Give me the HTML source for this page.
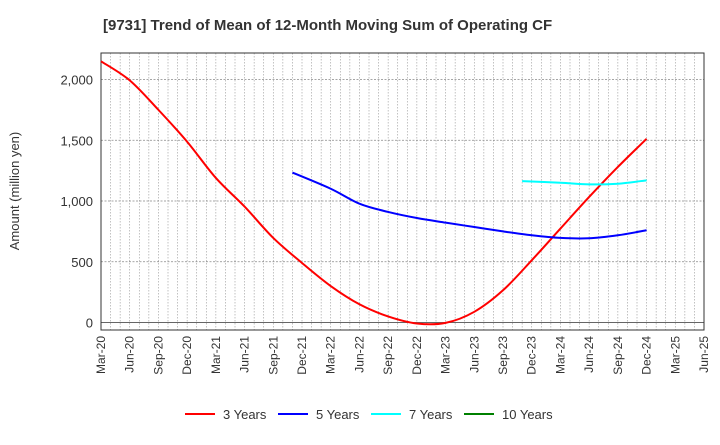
<!DOCTYPE html>
<html><head><meta charset="utf-8"><style>
body{margin:0;background:#fff;font-family:"Liberation Sans",sans-serif}
svg text{font-family:"Liberation Sans",sans-serif}
</style></head><body>
<svg id="chart" width="720" height="440" xmlns="http://www.w3.org/2000/svg">
<text x="103" y="30" font-size="15" font-weight="bold" fill="#333">[9731]  Trend of Mean of 12-Month Moving Sum of Operating CF</text>
<g id="grid"></g><g id="axes"></g><g id="series"></g><g id="legend"></g>
</svg>
<script>
const xLabels=["Mar-20","Jun-20","Sep-20","Dec-20","Mar-21","Jun-21","Sep-21","Dec-21","Mar-22","Jun-22","Sep-22","Dec-22","Mar-23","Jun-23","Sep-23","Dec-23","Mar-24","Jun-24","Sep-24","Dec-24","Mar-25","Jun-25"];
const yTicks=[0,500,1000,1500,2000];
const yTickLabels=["0","500","1,000","1,500","2,000"];
const s3Months=[0,3,6,9,12,15,18,21,24,27,30,33,36,39,42,45,48,51,54,57];
const s3=[2150,1993,1750,1488,1190,954,696,490,300,150,50,-8,-3,88,265,512,773,1033,1280,1512];
const s5Months=[20,24,27,30,33,36,39,42,45,48,51,54,57];
const s5=[1234,1101,978,910,860,822,786,750,718,696,693,718,759];
const s7Months=[44,48,51,54,57];
const s7=[1164,1150,1137,1142,1170];
const seriesNames=["3 Years","5 Years","7 Years","10 Years"];
const seriesColors=["#ff0000","#0000ff","#00ffff","#008000"];
const L=101,R=704,T=53,B=330;
const xm=m=>L+m*(R-L)/63;
const xs=i=>xm(i*3);
const ys=v=>322.5-v*(243/2000);
const ns="http://www.w3.org/2000/svg";
function mk(t,a,p){const e=document.createElementNS(ns,t);for(const k in a)e.setAttribute(k,a[k]);p.appendChild(e);return e;}
const grid=document.getElementById('grid'),axes=document.getElementById('axes'),ser=document.getElementById('series'),leg=document.getElementById('legend');
for(let m=0;m<=63;m++){const x=xm(m);const l=mk('line',{x1:x,x2:x,y1:T,y2:B,stroke:'#999','stroke-width':0.6,'stroke-dasharray':'1.5,1.5'},grid);

}
yTicks.forEach((v,i)=>{const y=ys(v);const l=mk('line',{x1:L,x2:R,y1:y,y2:y,stroke:v===0?'#666':'#888','stroke-width':v===0?1:0.8,'stroke-dasharray':v===0?'':'2,1.5'},grid);


const t=mk('text',{x:L-8,y:y+5,'text-anchor':'end','font-size':13,fill:'#333'},axes);t.textContent=yTickLabels[i];

});
const fr=mk('rect',{x:L,y:T,width:R-L,height:B-T,fill:'none',stroke:'#333','stroke-width':1},axes);


xLabels.forEach((s,i)=>{const x=xs(i);const t=mk('text',{x:x+4,y:B+6,'text-anchor':'end','font-size':12,fill:'#333',transform:`rotate(-90 ${x+4} ${B+6})`},axes);t.textContent=s;

});
const yt=mk('text',{x:19,y:191,'text-anchor':'middle','font-size':13,fill:'#333',transform:'rotate(-90 19 191)'},axes);yt.textContent='Amount (million yen)';


function path(vals,months){const p=vals.map((v,i)=>[xm(months[i]),ys(v)]);let d=`M${p[0][0]},${p[0][1]}`;
for(let i=0;i<p.length-1;i++){const p0=p[i-1]||p[i],p1=p[i],p2=p[i+1],p3=p[i+2]||p2;
d+=` C${p1[0]+(p2[0]-p0[0])/6},${p1[1]+(p2[1]-p0[1])/6} ${p2[0]-(p3[0]-p1[0])/6},${p2[1]-(p3[1]-p1[1])/6} ${p2[0]},${p2[1]}`;}return d;}
[[s3,s3Months,0,'series-3-years'],[s5,s5Months,1,'series-5-years'],[s7,s7Months,2,'series-7-years']].forEach(([v,m,c,n])=>{
const e=mk('path',{d:path(v,m),fill:'none',stroke:seriesColors[c],'stroke-width':2},ser);

});
const lx=[185,278,371,464];
seriesNames.forEach((n,i)=>{const l=mk('line',{x1:lx[i],x2:lx[i]+30,y1:414,y2:414,stroke:seriesColors[i],'stroke-width':2},leg);


const t=mk('text',{x:lx[i]+38,y:419,'font-size':13,fill:'#333'},leg);t.textContent=n;

});
</script>
</body></html>
